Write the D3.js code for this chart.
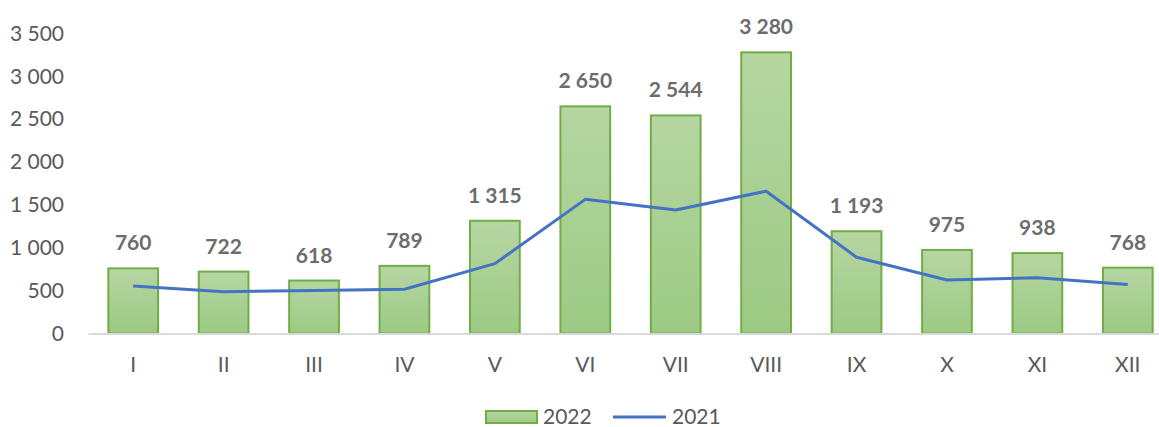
<!DOCTYPE html>
<html>
<head>
<meta charset="utf-8">
<script src="https://cdn.jsdelivr.net/npm/d3@7"></script>
<style>
  body { margin: 0; background: #fff; }
  text { font-family: Lato, "Open Sans", sans-serif; }
</style>
</head>
<body>
<div id="chart"></div>
<script>
const months = ['I', 'II', 'III', 'IV', 'V', 'VI', 'VII', 'VIII', 'IX', 'X', 'XI', 'XII'];
const values2022 = [760, 722, 618, 789, 1315, 2650, 2544, 3280, 1193, 975, 938, 768];
const values2021 = [555, 488, 502, 517, 815, 1565, 1440, 1660, 890, 625, 650, 572];
const yTicks = [0, 500, 1000, 1500, 2000, 2500, 3000, 3500];

const width = 1159;
const height = 427;

const locale = d3.formatLocale({ decimal: ',', thousands: '\u00a0', grouping: [3], currency: ['', ''] });
const fmt = locale.format(',d');

const svg = d3.select('#chart')
  .append('svg')
  .attr('width', width)
  .attr('height', height);

const x = d3.scaleBand()
  .domain(months)
  .range([88, 1173])
  .paddingInner(0.45)
  .paddingOuter(0.225);

const y = d3.scaleLinear()
  .domain([0, 3500])
  .range([333.5, 33.5]);

// gradient for bars
const grad = svg.append('defs').append('linearGradient')
  .attr('id', 'barGrad')
  .attr('x1', 0).attr('y1', 0).attr('x2', 0).attr('y2', 1);
grad.append('stop').attr('offset', '0%').attr('stop-color', '#b6d6a2');
grad.append('stop').attr('offset', '100%').attr('stop-color', '#9cca84');

// y axis labels
svg.append('g')
  .attr('transform', 'translate(64,0)')
  .call(d3.axisLeft(y).tickValues(yTicks).tickFormat(fmt).tickSize(0).tickPadding(0))
  .call(g => g.select('.domain').remove())
  .call(g => g.selectAll('text')
    .attr('fill', '#595959')
    .attr('font-size', 21)
    .style('font-family', 'Lato, sans-serif'));

// bars
svg.selectAll('rect.bar')
  .data(values2022)
  .enter()
  .append('rect')
  .attr('class', 'bar')
  .attr('x', (d, i) => x(months[i]))
  .attr('y', d => y(d))
  .attr('width', x.bandwidth())
  .attr('height', d => y(0) - y(d))
  .attr('fill', 'url(#barGrad)')
  .attr('stroke', '#70ad47')
  .attr('stroke-width', 2);

// x axis
svg.append('g')
  .attr('transform', `translate(0,${y(0)})`)
  .call(d3.axisBottom(x).tickSize(0))
  .call(g => g.select('.domain').attr('stroke', '#d9d9d9').attr('stroke-width', 2))
  .call(g => g.selectAll('text')
    .attr('y', 31)
    .attr('dy', '0.35em')
    .attr('fill', '#595959')
    .attr('font-size', 21)
    .style('font-family', 'Lato, sans-serif'));

// 2021 line
const line = d3.line()
  .x((d, i) => x(months[i]) + x.bandwidth() / 2)
  .y(d => y(d));

svg.append('path')
  .datum(values2021)
  .attr('d', line)
  .attr('fill', 'none')
  .attr('stroke', '#4472c4')
  .attr('stroke-width', 3)
  .attr('stroke-linejoin', 'round');

// data labels
svg.selectAll('text.lbl')
  .data(values2022)
  .enter()
  .append('text')
  .attr('class', 'lbl')
  .attr('x', (d, i) => x(months[i]) + x.bandwidth() / 2)
  .attr('y', d => y(d) - 18)
  .attr('text-anchor', 'middle')
  .attr('font-size', 21)
  .attr('font-weight', 'bold')
  .attr('fill', '#6d6d6d')
  .text(d => fmt(d));

// legend
const legend = svg.append('g').attr('transform', 'translate(486,417)');
legend.append('rect')
  .attr('x', 0).attr('y', -6)
  .attr('width', 51).attr('height', 12)
  .attr('fill', 'url(#barGrad)')
  .attr('stroke', '#70ad47')
  .attr('stroke-width', 2);
legend.append('text')
  .attr('x', 57).attr('y', 0)
  .attr('dy', '0.35em')
  .attr('font-size', 21)
  .attr('fill', '#595959')
  .text('2022');
legend.append('line')
  .attr('x1', 127).attr('x2', 180)
  .attr('y1', 0).attr('y2', 0)
  .attr('stroke', '#4472c4')
  .attr('stroke-width', 3);
legend.append('text')
  .attr('x', 186).attr('y', 0)
  .attr('dy', '0.35em')
  .attr('font-size', 21)
  .attr('fill', '#595959')
  .text('2021');
</script>
</body>
</html>
